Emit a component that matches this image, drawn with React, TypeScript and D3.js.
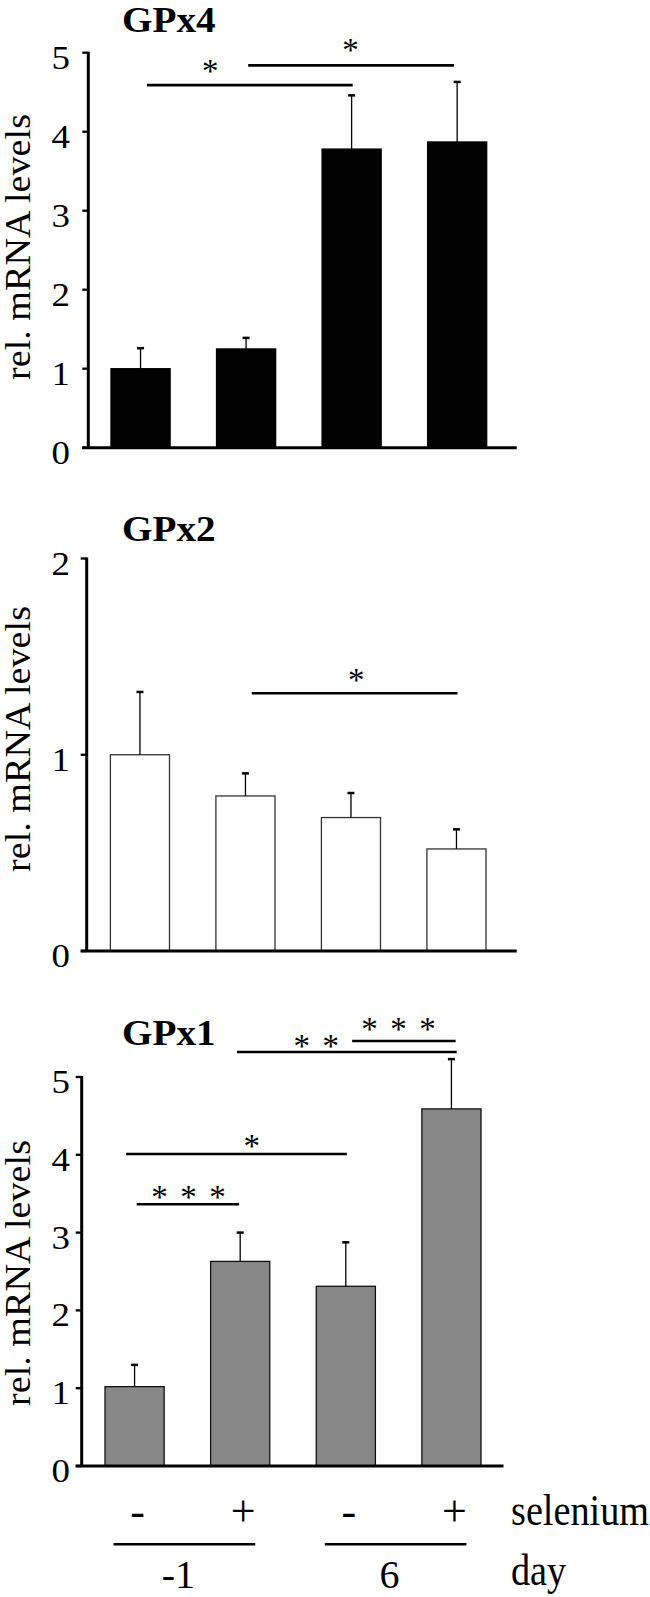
import React from "react";
import * as d3 from "d3";

// four conditions: day -1 / day 6, without / with selenium
const categories = ["d-1 -Se", "d-1 +Se", "d6 -Se", "d6 +Se"];
const seleniumLabels = ["-", "+", "-", "+"];
const dayLabels = ["-1", "6"];
const dayGroups = [
  [0, 1],
  [2, 3],
];

const gpx4Values = [1.0, 1.25, 3.78, 3.87];
const gpx4Errors = [0.26, 0.14, 0.68, 0.76];
const gpx4Ticks = [0, 1, 2, 3, 4, 5];

const gpx2Values = [1.0, 0.79, 0.68, 0.52];
const gpx2Errors = [0.32, 0.115, 0.125, 0.1];
const gpx2Ticks = [0, 1, 2];

const gpx1Values = [1.02, 2.63, 2.31, 4.59];
const gpx1Errors = [0.28, 0.37, 0.565, 0.64];
const gpx1Ticks = [0, 1, 2, 3, 4, 5];

// significance brackets: bar index span, line level, star count, star spot (bar index) and level
const gpx4Sig = [
  { from: 0.06, to: 2.01, level: 4.59, stars: 1, at: 0.66, starLevel: 4.82 },
  { from: 1.02, to: 2.97, level: 4.84, stars: 1, at: 1.99, starLevel: 5.08 },
];
const gpx2Sig = [
  { from: 1.06, to: 3.01, level: 1.313, stars: 1, at: 2.05, starLevel: 1.398 },
];
const gpx1Sig = [
  { from: 0.02, to: 0.99, level: 3.365, stars: 3, at: 0.51, starLevel: 3.506 },
  { from: -0.08, to: 2.01, level: 4.01, stars: 1, at: 1.11, starLevel: 4.168 },
  { from: 0.97, to: 3.05, level: 5.321, stars: 2, at: 1.72, starLevel: 5.446 },
  { from: 2.06, to: 3.04, level: 5.463, stars: 3, at: 2.5, starLevel: 5.668 },
];

const SERIF = "'Liberation Serif', 'Times New Roman', Times, serif";

const panels = [
  {
    title: "GPx4", values: gpx4Values, errors: gpx4Errors, ticks: gpx4Ticks, sig: gpx4Sig,
    fill: "#000", stroke: "#000",
    axisX: 88.3, xEnd: 516.7, bars: [111, 486.7], y0: 447.7, yTop: 52.7, titleY: 31.5, labelY: 247,
  },
  {
    title: "GPx2", values: gpx2Values, errors: gpx2Errors, ticks: gpx2Ticks, sig: gpx2Sig,
    fill: "#fff", stroke: "#333",
    axisX: 86.7, xEnd: 516.7, bars: [110.4, 486], y0: 951, yTop: 558.5, titleY: 541, labelY: 739,
  },
  {
    title: "GPx1", values: gpx1Values, errors: gpx1Errors, ticks: gpx1Ticks, sig: gpx1Sig,
    fill: "#878787", stroke: "#111",
    axisX: 81.7, xEnd: 503.5, bars: [105, 481], y0: 1466, yTop: 1077, titleY: 1045, labelY: 1273,
  },
];

function Stars({ n, cx, cy }) {
  const gap = 29;
  const fs = 33;
  return (
    <g>
      {d3.range(n).map((i) => (
        <text
          key={i}
          x={cx + (i - (n - 1) / 2) * gap}
          y={cy + 0.45 * fs}
          textAnchor="middle"
          fontFamily={SERIF}
          fontSize={fs}
        >
          *
        </text>
      ))}
    </g>
  );
}

function Panel({ p }) {
  const x = d3.scaleBand().domain(categories).range(p.bars).paddingInner(0.44).paddingOuter(0);
  const y = d3.scaleLinear().domain([0, d3.max(p.ticks)]).range([p.y0, p.yTop]);
  const bw = x.bandwidth();
  const c0 = x(categories[0]) + bw / 2;
  const step = x.step();
  const atX = (i) => c0 + i * step;

  return (
    <g>
      <text
        transform={`translate(122,${p.titleY}) scale(1.12,1)`}
        fontFamily={SERIF}
        fontWeight="bold"
        fontSize={35}
      >
        {p.title}
      </text>

      <text
        transform={`translate(30,${p.labelY}) rotate(-90)`}
        textAnchor="middle"
        fontFamily={SERIF}
        fontSize={35}
        textLength={266}
        lengthAdjust="spacingAndGlyphs"
      >
        rel. mRNA levels
      </text>

      {/* bars */}
      {p.values.map((v, i) => (
        <rect
          key={i}
          x={x(categories[i])}
          y={y(v)}
          width={bw}
          height={y(0) - y(v)}
          fill={p.fill}
          stroke={p.stroke}
          strokeWidth={1.3}
        />
      ))}

      {/* error bars, upper side only */}
      {p.values.map((v, i) => {
        const cx = x(categories[i]) + bw / 2;
        const top = y(v + p.errors[i]);
        return (
          <g key={i}>
            <line x1={cx} x2={cx} y1={y(v)} y2={top} stroke="#000" strokeWidth={1.3} />
            <line x1={cx - 3.5} x2={cx + 3.5} y1={top} y2={top} stroke="#000" strokeWidth={2.5} />
          </g>
        );
      })}

      {/* axes */}
      <line x1={p.axisX} x2={p.axisX} y1={y(d3.max(p.ticks)) - 1} y2={y(0)} stroke="#000" strokeWidth={3} />
      <line x1={p.axisX - 6} x2={p.xEnd} y1={y(0)} y2={y(0)} stroke="#000" strokeWidth={3} />
      {p.ticks.map((t) => (
        <g key={t}>
          <line x1={p.axisX - 6} x2={p.axisX} y1={y(t)} y2={y(t)} stroke="#000" strokeWidth={2.3} />
          <text
            transform={`translate(70,${y(t) + 16}) scale(1.12,1)`}
            textAnchor="end"
            fontFamily={SERIF}
            fontSize={33}
          >
            {t}
          </text>
        </g>
      ))}

      {/* significance */}
      {p.sig.map((s, k) => (
        <g key={k}>
          <line x1={atX(s.from)} x2={atX(s.to)} y1={y(s.level)} y2={y(s.level)} stroke="#000" strokeWidth={2.6} />
          <Stars n={s.stars} cx={atX(s.at)} cy={y(s.starLevel)} />
        </g>
      ))}
    </g>
  );
}

function Footer() {
  const p = panels[2];
  const x = d3.scaleBand().domain(categories).range(p.bars).paddingInner(0.44).paddingOuter(0);
  const center = (i) => x(categories[i]) + x.bandwidth() / 2;
  return (
    <g fontFamily={SERIF}>
      {seleniumLabels.map((s, i) => (
        <text key={i} x={center(i) + 3} y={1526} textAnchor="middle" fontSize={44}>
          {s}
        </text>
      ))}
      <text transform="translate(511,1525) scale(0.85,1)" fontSize={45}>
        selenium
      </text>
      {dayGroups.map((g, k) => {
        const a = center(g[0]);
        const b = center(g[1]);
        return (
          <g key={k}>
            <line x1={a - 21} x2={b + 15} y1={1544.3} y2={1544.3} stroke="#000" strokeWidth={2.6} />
            <text x={(a + b) / 2 - 9} y={1588} textAnchor="middle" fontSize={40}>
              {dayLabels[k]}
            </text>
          </g>
        );
      })}
      <text transform="translate(511,1585) scale(0.85,1)" fontSize={45}>
        day
      </text>
    </g>
  );
}

export default function App() {
  return (
    <svg
      width={650}
      height={1597}
      style={{ position: "absolute", left: 0, top: 0, background: "#fff" }}
    >
      {panels.map((p) => (
        <Panel key={p.title} p={p} />
      ))}
      <Footer />
    </svg>
  );
}
